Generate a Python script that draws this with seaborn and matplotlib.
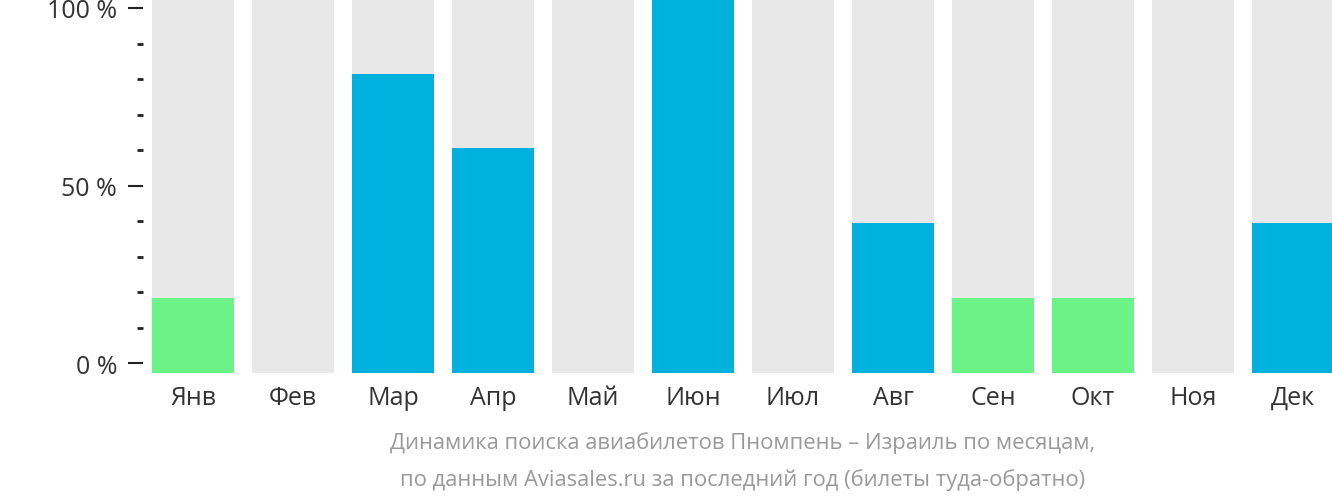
import matplotlib
matplotlib.use("Agg")
import matplotlib.pyplot as plt
import seaborn as sns
import pandas as pd

months = ["Янв", "Фев", "Мар", "Апр", "Май", "Июн", "Июл", "Авг", "Сен", "Окт", "Ноя", "Дек"]
values = [20, 0, 80, 60, 0, 100, 0, 40, 20, 20, 0, 40]
background = [100] * 12
ytick_values = [0, 50, 100]
ytick_labels = ["0 %", "50 %", "100 %"]
caption = ["Динамика поиска авиабилетов Пномпень – Израиль по месяцам,",
           "по данным Aviasales.ru за последний год (билеты туда-обратно)"]

BLUE = "#00B1DD"
GREEN = "#6CF387"
GRAY = "#E8E8E8"
colors = [GREEN if 0 < v <= 20 else BLUE for v in values]

sns.set_style("white")
plt.rcParams["font.family"] = ["Open Sans", "DejaVu Sans"]

df = pd.DataFrame({"month": months, "value": values, "bg": background})

fig = plt.figure(figsize=(13.32, 5.02), dpi=100)
W, H = 1332, 502
PT = 72 / 100  # points per pixel
ax = fig.add_axes([152 / W, (H - 373.5) / H, 1182 / W, 373.5 / H])

sns.barplot(data=df, x="month", y="bg", color=GRAY, width=0.82, ax=ax,
            saturation=1, edgecolor="none", linewidth=0)
sns.barplot(data=df, x="month", y="value", hue="month", palette=colors, width=0.82,
            ax=ax, saturation=1, legend=False, edgecolor="none", linewidth=0)

ax.set_xlim(-0.41, 11.41)
ax.set_ylim(0, 100)
ax.set_xlabel("")
ax.set_ylabel("")
for s in ax.spines.values():
    s.set_visible(False)
ax.set_yticks([])
ax.tick_params(axis="x", length=0, pad=9, labelsize=18, labelcolor="#333333")

# percent axis (slightly offset scale, as in the reference)
px_per_bar = 373.5 / 100.0
px_per_pct = 3.55
offset_px = 9.5


def fwd(b):
    return (b * px_per_bar - offset_px) / px_per_pct


def inv(p):
    return (p * px_per_pct + offset_px) / px_per_bar


sec = ax.secondary_yaxis("left", functions=(fwd, inv))
sec.spines["left"].set_visible(False)
sec.spines["left"].set_position(("outward", 9 * PT))
sec.set_yticks(ytick_values)
sec.set_yticklabels(ytick_labels)
sec.set_yticks(list(range(0, 101, 10)), minor=True)
sec.tick_params(axis="y", which="major", length=15 * PT, width=1.5, color="#222222",
                labelsize=18, labelcolor="#333333", pad=11 * PT)
sec.tick_params(axis="y", which="minor", length=6 * PT, width=2, color="#222222")

fig.text(743 / W, 1 - 443 / H, caption[0], ha="center", va="center",
         fontsize=15.8, color="#999999")
fig.text(743 / W, 1 - 480 / H, caption[1], ha="center", va="center",
         fontsize=15.8, color="#999999")

fig.savefig("out.png", dpi=100)
